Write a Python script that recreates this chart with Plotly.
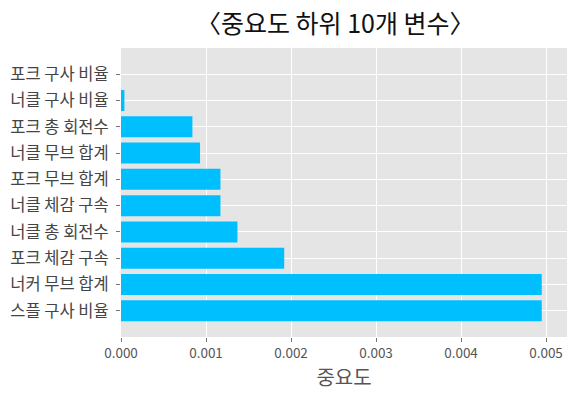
import plotly.graph_objects as go

# bottom to top
features = ["스플 구사 비율", "너커 무브 합계", "포크 체감 구속", "너클 총 회전수", "너클 체감 구속",
            "포크 무브 합계", "너클 무브 합계", "포크 총 회전수", "너클 구사 비율", "포크 구사 비율"]
importance = [0.00495, 0.00495, 0.00192, 0.00137, 0.00117, 0.00117, 0.00093, 0.00084, 0.00004, 0.0]
x_ticks = [0.000, 0.001, 0.002, 0.003, 0.004, 0.005]

FONT = "Noto Sans CJK KR"

fig = go.Figure(go.Bar(
    x=importance, y=list(range(len(features))), orientation="h",
    marker=dict(color="#00BFFF", line=dict(width=0)), width=0.8,
))

fig.update_layout(
    width=580, height=396,
    margin=dict(l=121, r=13, t=48, b=59),
    paper_bgcolor="white", plot_bgcolor="#E5E5E5",
    font=dict(family=FONT, color="#555555"),
    title=dict(text="〈중요도 하위 10개 변수〉", x=0.578, xanchor="center", y=0.938, yanchor="middle",
               font=dict(family=FONT, size=25, color="#111111")),
    showlegend=False,
    xaxis=dict(range=[0, 0.005247], tickvals=x_ticks, tickformat=".3f", automargin=False,
               showgrid=True, gridcolor="white", gridwidth=1.3, zeroline=False,
               ticks="outside", ticklen=4, tickcolor="#777777",
               tickfont=dict(size=13.5, color="#555555"),
               title=dict(text="중요도", font=dict(size=20, color="#555555"), standoff=5)),
    yaxis=dict(range=[-1, 10], tickvals=list(range(len(features))), ticktext=features, automargin=False,
               showgrid=True, gridcolor="white", gridwidth=1.3, zeroline=False,
               ticks="outside", ticklen=4, tickcolor="#777777", ticklabelstandoff=4,
               tickfont=dict(size=16.5, color="#444444")),
)

# remove the browser's default 8px body margin so the figure fills the window exactly
fig.write_html("out.html", config={"displayModeBar": False},
               post_script="document.body.style.margin='0';")
